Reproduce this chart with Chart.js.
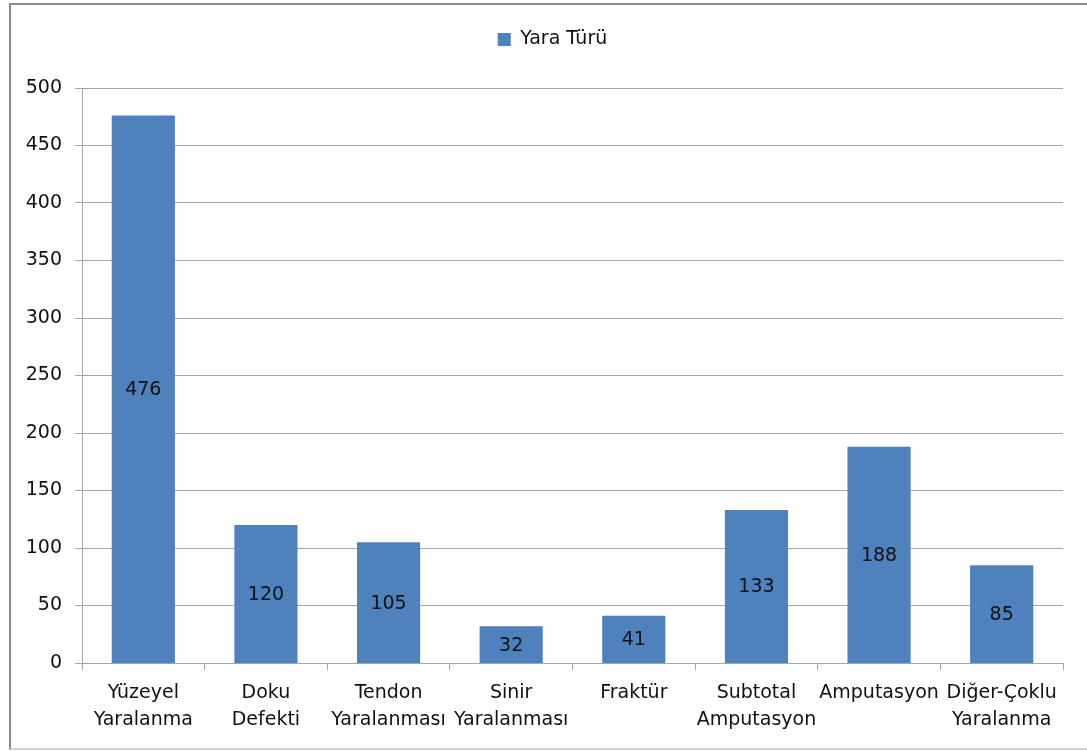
<!DOCTYPE html>
<html>
<head>
<meta charset="utf-8">
<script src="https://cdn.jsdelivr.net/npm/chart.js@4.4.1/dist/chart.umd.min.js"></script>
<style>
  html, body { margin: 0; padding: 0; background: #fff; }
  #frame {
    position: absolute; left: 9px; top: 3px; width: 1090px; height: 747px;
    border-left: 2px solid #8c8c8c; border-top: 2px solid #8c8c8c; border-bottom: 2px solid #d0d0d0;
    box-sizing: border-box;
  }
  #wrap { position: absolute; left: 0; top: 0; width: 1087px; height: 751px; }
</style>
</head>
<body>
<div id="frame"></div>
<div id="wrap"><canvas id="chart" width="1087" height="751"></canvas></div>
<script>
// Wound types and their counts
const categories = [
  ["Yüzeyel", "Yaralanma"],
  ["Doku", "Defekti"],
  ["Tendon", "Yaralanması"],
  ["Sinir", "Yaralanması"],
  ["Fraktür"],
  ["Subtotal", "Amputasyon"],
  ["Amputasyon"],
  ["Diğer-Çoklu", "Yaralanma"]
];
const counts = [476, 120, 105, 32, 41, 133, 188, 85];
const seriesName = "Yara Türü";
const yTicks = [0, 50, 100, 150, 200, 250, 300, 350, 400, 450, 500];

const FONT = "'DejaVu Sans', sans-serif";
const GRID = "#a6a6a6";
const TEXT = "#111111";

// Writes each bar's value in the middle of the bar
const centerLabels = {
  id: "centerLabels",
  afterDatasetsDraw(chart) {
    const ctx = chart.ctx;
    const meta = chart.getDatasetMeta(0);
    ctx.save();
    ctx.font = "19px " + FONT;
    ctx.fillStyle = TEXT;
    ctx.textAlign = "center";
    ctx.textBaseline = "middle";
    meta.data.forEach((bar, i) => {
      const v = chart.data.datasets[0].data[i];
      const p = bar.getProps(["x", "y", "base"], true);
      ctx.fillText(String(v), p.x, (p.y + p.base) / 2 + 1);
    });
    ctx.restore();
  }
};

new Chart(document.getElementById("chart"), {
  type: "bar",
  data: {
    labels: categories,
    datasets: [{
      label: seriesName,
      data: counts,
      backgroundColor: "#4f81bd",
      borderWidth: 0,
      barPercentage: 0.515,
      categoryPercentage: 1.0
    }]
  },
  options: {
    responsive: false,
    animation: false,
    layout: { padding: { left: 18, right: 0, top: 12, bottom: 0 } },
    plugins: {
      legend: {
        display: true,
        position: "top",
        labels: {
          boxWidth: 13,
          boxHeight: 13,
          padding: 18,
          color: TEXT,
          font: { family: FONT, size: 19 }
        }
      },
      tooltip: { enabled: false }
    },
    scales: {
      // empty band between the legend and the plot
      gapTop: {
        type: "category",
        position: "top",
        display: true,
        grid: { display: false },
        border: { display: false },
        ticks: { display: false },
        afterFit(scale) { scale.height = 29; }
      },
      // empty margin right of the plot
      gapRight: {
        type: "linear",
        position: "right",
        display: true,
        grid: { display: false },
        border: { display: false },
        ticks: { display: false },
        afterFit(scale) { scale.width = 24; }
      },
      x: {
        grid: {
          display: true,
          drawOnChartArea: false,
          drawTicks: true,
          tickLength: 7,
          color: GRID,
          offset: true
        },
        border: { display: true, color: GRID, width: 1 },
        ticks: {
          color: TEXT,
          font: { family: FONT, size: 19, lineHeight: 1.42 },
          padding: 10,
          maxRotation: 0,
          autoSkip: false
        },
        afterFit(scale) { scale.height = 751 - 663; }
      },
      y: {
        min: 0,
        max: 500,
        afterBuildTicks(scale) { scale.ticks = yTicks.map(v => ({ value: v })); },
        grid: {
          color: GRID,
          drawTicks: true,
          tickLength: 7
        },
        border: { display: true, color: GRID, width: 1 },
        ticks: {
          color: TEXT,
          font: { family: FONT, size: 19 },
          padding: 13
        },
        afterFit(scale) { scale.width = 64; }
      }
    }
  },
  plugins: [centerLabels]
});
</script>
</body>
</html>
